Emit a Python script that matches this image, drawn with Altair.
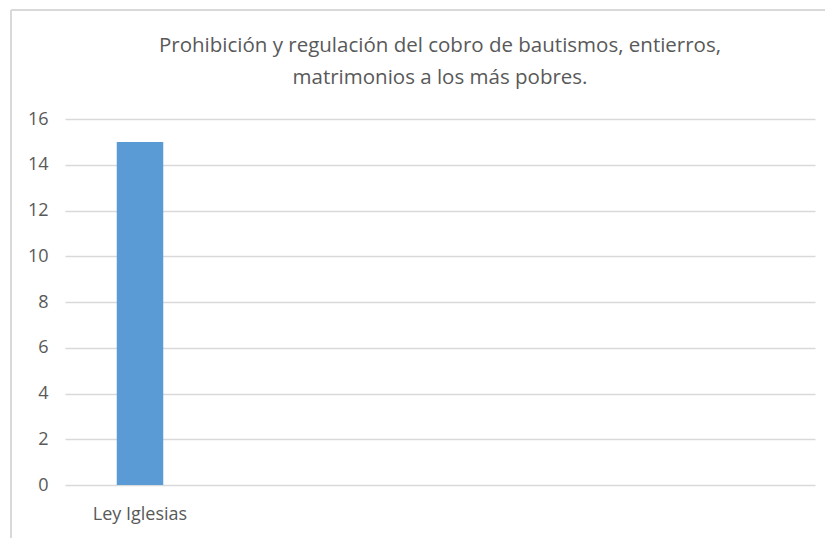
import altair as alt
import pandas as pd

categories = ["Ley Iglesias", "c2", "c3", "c4", "c5"]
values = [15, None, None, None, None]
title_lines = ["Prohibición  y regulación del cobro de bautismos, entierros,",
               "matrimonios a los más pobres."]

df = pd.DataFrame({"cat": categories, "val": values}).dropna()

FONT = "Open Sans"
GRID = "#D9D9D9"

bars = alt.Chart(df).mark_bar(color="#5B9BD5").encode(
    x=alt.X("cat:N", sort=categories,
            scale=alt.Scale(domain=categories, paddingInner=0.69, paddingOuter=0.345),
            axis=alt.Axis(title=None, labelAngle=0, domain=False, ticks=False,
                          labelExpr="datum.value == 'Ley Iglesias' ? datum.value : ''",
                          labelFont=FONT, labelFontSize=18,
                          labelColor="#595959", labelPadding=20)),
    y=alt.Y("val:Q", scale=alt.Scale(domain=[0, 16]),
            axis=alt.Axis(title=None, values=list(range(0, 17, 2)), domain=False, ticks=False,
                          gridColor=GRID, gridWidth=1.3,
                          labelFont=FONT, labelFontSize=18,
                          labelColor="#595959", labelPadding=17)),
)

# chart frame (decorative border of the original chart area)
frame_left = alt.Chart(df).mark_rule(color=GRID, strokeWidth=2).encode(
    x=alt.value(-54), y=alt.value(-109), y2=alt.value(440))
frame_top = alt.Chart(df).mark_rule(color=GRID, strokeWidth=2).encode(
    x=alt.value(-54), x2=alt.value(800), y=alt.value(-109))

chart = alt.layer(bars, frame_left, frame_top).properties(
    width=750, height=366,
    title=alt.TitleParams(title_lines, font=FONT, fontSize=20.5,
                          fontWeight="normal", color="#595959", anchor="middle",
                          lineHeight=32, offset=-79),
    padding={"left": 57, "top": 111, "right": 10, "bottom": 60},
    autosize=alt.AutoSizeParams(type="none"),
).configure(background="white").configure_view(stroke=None)

chart.save("out.html", embed_options={"renderer": "svg", "actions": False})
